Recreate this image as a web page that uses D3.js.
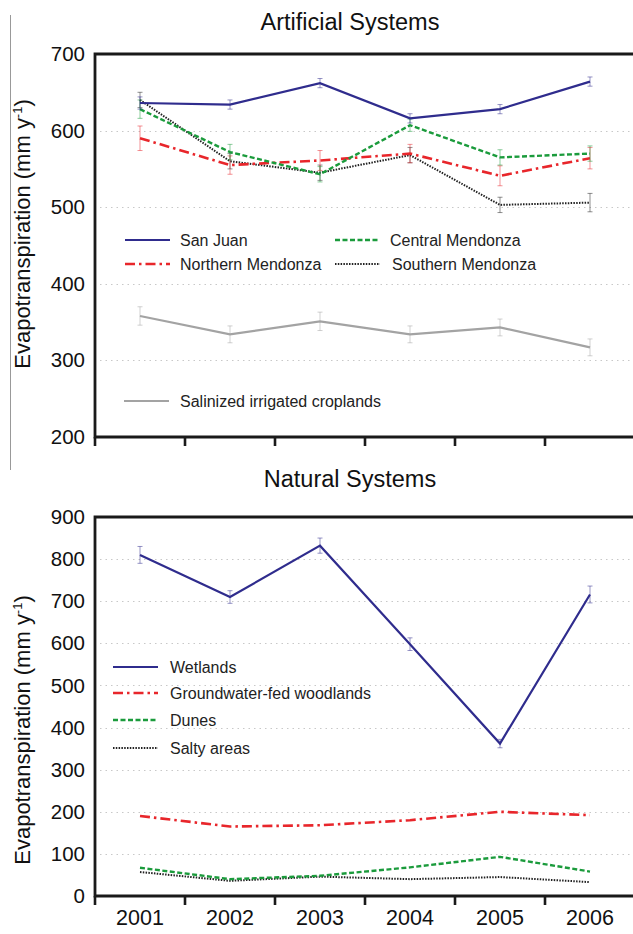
<!DOCTYPE html>
<html><head><meta charset="utf-8">
<script src="https://cdn.jsdelivr.net/npm/d3@7"></script>
<style>body{margin:0;background:#fff}svg{display:block}text{font-family:"Liberation Sans",Arial,sans-serif}</style>
</head><body><svg id="c" width="633" height="934"></svg>
<script>
const years = ["2001","2002","2003","2004","2005","2006"];
const topTicks = [200,300,400,500,600,700];
const botTicks = [0,100,200,300,400,500,600,700,800,900];

const sanJuan = [636,634,662,616,628,664];
const sanJuanErr = [8,6,6,6,6,6];
const central = [628,572,543,607,565,570];
const centralErr = [12,10,10,8,10,10];
const northern = [590,555,561,570,541,564];
const northernErr = [16,12,13,12,13,14];
const southern = [640,560,545,568,503,506];
const southernErr = [10,10,10,10,10,12];
const salinized = [358,334,351,334,343,317];
const salinizedErr = [12,11,12,11,11,11];

const wetlands = [810,710,832,598,362,716];
const wetlandsErr = [20,15,18,15,10,20];
const woodlands = [190,165,168,180,200,192];
const dunes = [67,40,48,68,93,58];
const salty = [57,36,46,40,45,33];

const svg = d3.select("#c");
const NAVY="#2f2c8d", RED="#e8262b", GREEN="#1b9b3c", BLACK="#222", GRAY="#a3a3a3";
const styles = {
  solid:{dash:null,w:2.2},
  dashdot:{dash:"10,4,2.5,4",w:2.6},
  dashed:{dash:"5,2.5",w:2.4},
  dotted:{dash:"1.5,1.3",w:2}
};

const x = d3.scaleBand().domain(years).range([95,635]);
const cx = d => x(d)+x.bandwidth()/2;

// left artefact line
svg.append("line").attr("x1",10.5).attr("x2",10.5).attr("y1",15).attr("y2",470).attr("stroke","#999").attr("stroke-width",1);

function panel(opt){
  const y = d3.scaleLinear().domain(opt.domain).range([opt.bottom,opt.top]);
  const g = svg.append("g");
  g.selectAll(".grid").data(opt.ticks.filter(t=>t>opt.domain[0]&&t<opt.domain[1])).join("line")
    .attr("x1",100).attr("x2",633).attr("y1",d=>Math.round(y(d))+0.5).attr("y2",d=>Math.round(y(d))+0.5)
    .attr("stroke","#c8c8c8").attr("stroke-width",1).attr("stroke-dasharray","1.5,4");
  const ya = d3.axisLeft(y).tickValues(opt.ticks).tickSize(0).tickPadding(10);
  const yg = g.append("g").attr("transform","translate(95,0)").call(ya);
  yg.select(".domain").remove();
  yg.selectAll("text").attr("font-size",20.5).attr("fill","#111").style("font-family","Liberation Sans, Arial");
  g.append("path").attr("d",`M640,${opt.top}H95V${opt.bottom}H640`).attr("fill","none").attr("stroke","#1a1a1a").attr("stroke-width",2.8);
  const tx = years.map(d=>x(d));
  g.selectAll(".xt").data(tx).join("line").attr("x1",d=>d).attr("x2",d=>d)
    .attr("y1",opt.bottom).attr("y2",opt.bottom+9).attr("stroke","#1a1a1a").attr("stroke-width",2.6);
  if(opt.labels){
    g.selectAll(".xl").data(years).join("text").attr("x",d=>cx(d)).attr("y",opt.bottom+29)
      .attr("text-anchor","middle").attr("font-size",21.5).attr("fill","#111").text(d=>d);
  }
  g.append("text").attr("x",350).attr("y",opt.titleY).attr("text-anchor","middle").attr("font-size",23.5).attr("fill","#111").text(opt.title);
  g.append("text").attr("transform",`translate(30,${opt.labelY}) rotate(-90)`).attr("text-anchor","middle")
    .attr("font-size",22).attr("fill","#111")
    .html('Evapotranspiration (mm y<tspan dy="-8" font-size="13">-1</tspan><tspan dy="8">)</tspan>');
  const line = d3.line().x((d,i)=>cx(years[i])).y(d=>y(d));
  opt.series.forEach(s=>{
    const st = styles[s.style];
    if(s.err){
      const eg = g.append("g").attr("stroke",s.color).attr("stroke-opacity",0.5).attr("stroke-width",1);
      s.values.forEach((v,i)=>{
        const xx=cx(years[i]), e=s.err[i];
        eg.append("line").attr("x1",xx).attr("x2",xx).attr("y1",y(v-e)).attr("y2",y(v+e));
        eg.append("line").attr("x1",xx-2.5).attr("x2",xx+2.5).attr("y1",y(v-e)).attr("y2",y(v-e));
        eg.append("line").attr("x1",xx-2.5).attr("x2",xx+2.5).attr("y1",y(v+e)).attr("y2",y(v+e));
      });
    }
    g.append("path").datum(s.values).attr("d",line).attr("fill","none").attr("stroke",s.color)
      .attr("stroke-width",st.w).attr("stroke-dasharray",st.dash);
  });
  opt.legend.forEach(l=>{
    const st = styles[l.style];
    g.append("line").attr("x1",l.x).attr("x2",l.x+45).attr("y1",l.y).attr("y2",l.y).attr("stroke",l.color)
      .attr("stroke-width",st.w).attr("stroke-dasharray",st.dash);
    g.append("text").attr("x",l.tx).attr("y",l.y+5.5).attr("font-size",16).attr("fill","#222").text(l.name);
  });
}

panel({
  title:"Artificial Systems", titleY:30, labelY:234, domain:[200,700], ticks:topTicks, top:54, bottom:437, labels:false,
  series:[
    {values:salinized, err:salinizedErr, color:GRAY, style:"solid"},
    {values:southern, err:southernErr, color:BLACK, style:"dotted"},
    {values:northern, err:northernErr, color:RED, style:"dashdot"},
    {values:central, err:centralErr, color:GREEN, style:"dashed"},
    {values:sanJuan, err:sanJuanErr, color:NAVY, style:"solid"}
  ],
  legend:[
    {name:"San Juan", color:NAVY, style:"solid", x:125, tx:180, y:240},
    {name:"Central Mendonza", color:GREEN, style:"dashed", x:335, tx:390, y:240},
    {name:"Northern Mendonza", color:RED, style:"dashdot", x:125, tx:180, y:264},
    {name:"Southern Mendonza", color:BLACK, style:"dotted", x:335, tx:392, y:264},
    {name:"Salinized irrigated croplands", color:GRAY, style:"solid", x:124, tx:180, y:401}
  ]
});

panel({
  title:"Natural Systems", titleY:487, labelY:730, domain:[0,900], ticks:botTicks, top:517, bottom:896, labels:true,
  series:[
    {values:salty, color:BLACK, style:"dotted"},
    {values:dunes, color:GREEN, style:"dashed"},
    {values:woodlands, color:RED, style:"dashdot"},
    {values:wetlands, err:wetlandsErr, color:NAVY, style:"solid"}
  ],
  legend:[
    {name:"Wetlands", color:NAVY, style:"solid", x:113, tx:170, y:667},
    {name:"Groundwater-fed woodlands", color:RED, style:"dashdot", x:113, tx:170, y:693},
    {name:"Dunes", color:GREEN, style:"dashed", x:113, tx:170, y:720},
    {name:"Salty areas", color:BLACK, style:"dotted", x:113, tx:170, y:748}
  ]
});
</script></body></html>
